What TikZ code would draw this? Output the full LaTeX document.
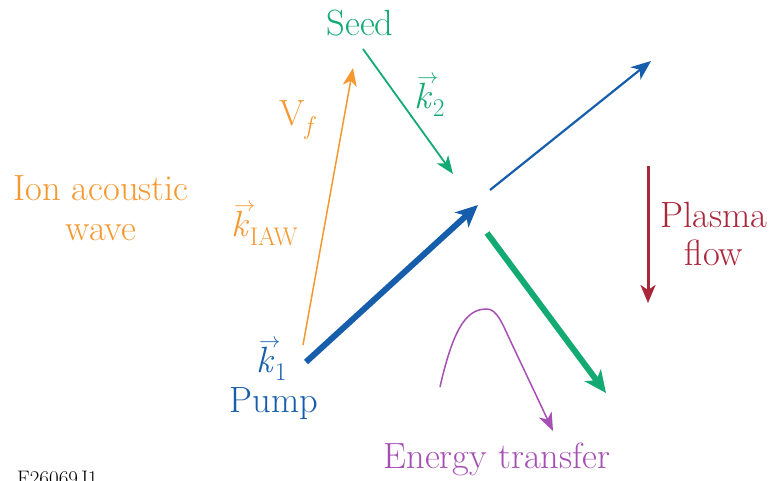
\documentclass[tikz,border=0pt]{standalone}
\usepackage{fontspec}
\usetikzlibrary{arrows.meta}
\definecolor{cOrange}{RGB}{246,152,48}
\definecolor{cGreen}{RGB}{20,170,115}
\definecolor{cBlue}{RGB}{22,94,172}
\definecolor{cRed}{RGB}{170,38,58}
\definecolor{cPurple}{RGB}{166,80,180}
\newcommand\vk{\leavevmode\rlap{\raisebox{0.66em}{\kern0.06em\resizebox{0.58em}{!}{$\rightarrow$}}}\textit{k}}
\begin{document}
\begin{tikzpicture}[x=1pt,y=-1pt,
  lbl/.style={inner sep=0pt,font=\fontsize{36.5}{40}\selectfont,align=center},
  tipS/.style={-{Stealth[length=18pt,width=14pt,inset=5pt]}}]
\useasboundingbox (0,0) rectangle (774,480);
% coordinates
\coordinate (oS) at (303,345);
\coordinate (oE) at (353,68);
\coordinate (gS) at (363,49);
\coordinate (gE) at (453,174);
\coordinate (bS) at (306,362);
\coordinate (bE) at (478,205);
\coordinate (tS) at (490,190);
\coordinate (tE) at (651,61);
\coordinate (GS) at (487,233);
\coordinate (GE) at (606,393);
\coordinate (rS) at (648,166);
\coordinate (rE) at (648,303);
\coordinate (pS) at (440,387);
\coordinate (pP) at (487,309);
\coordinate (pM) at (510,340);
\coordinate (pE) at (553,431);
% labels
\node[lbl,text=cGreen,anchor=base] (seed) at (360,35) {Seed};
\node[lbl,text=cGreen,anchor=base] (k2) at (430,108) {\vk\textsubscript{2}};
\node[lbl,text=cOrange,anchor=base] (vf) at (298,125) {V\textsubscript{\textit{f}}};
\node[lbl,text=cOrange,anchor=base] (ion1) at (101,200) {Ion acoustic};
\node[lbl,text=cOrange,anchor=base] (ion2) at (101,240) {wave};
\node[lbl,text=cOrange,anchor=base] (kiaw) at (265,236) {\vk\textsubscript{IAW}};
\node[lbl,text=cBlue,anchor=base] (k1) at (272,372) {\vk\textsubscript{1}};
\node[lbl,text=cBlue,anchor=base] (pump) at (274,412) {Pump};
\node[lbl,text=cRed,anchor=base] (pl1) at (714,227) {Plasma};
\node[lbl,text=cRed,anchor=base] (pl2) at (714,265) {flow};
\node[lbl,text=cPurple,anchor=base] (et) at (497,468) {Energy transfer};
\node[inner sep=0pt,anchor=base west,font=\fontsize{21}{22}\selectfont] (fig) at (17,485) {F26069J1};
% arrows
\draw[cOrange,line width=1.5pt,tipS] (oS) -- (oE);
\draw[cGreen,line width=1.8pt,tipS] (gS) -- (gE);
\draw[cBlue,line width=6pt,-{Stealth[length=22pt,width=20pt,inset=6pt]}] (bS) -- (bE);
\draw[cBlue,line width=2.2pt,-{Stealth[length=20pt,width=16pt,inset=6pt]}] (tS) -- (tE);
\draw[cGreen,line width=6pt,-{Stealth[length=22pt,width=20pt,inset=6pt]}] (GS) -- (GE);
\draw[cRed,line width=3pt,-{Stealth[length=18pt,width=15pt,inset=5pt]}] (rS) -- (rE);
\draw[cPurple,line width=1.5pt,tipS] (pS) .. controls (455,320) and (470,309) .. (pP)
  .. controls (497,309) and (503,325) .. (pM) -- (pE);
\end{tikzpicture}
\end{document}
